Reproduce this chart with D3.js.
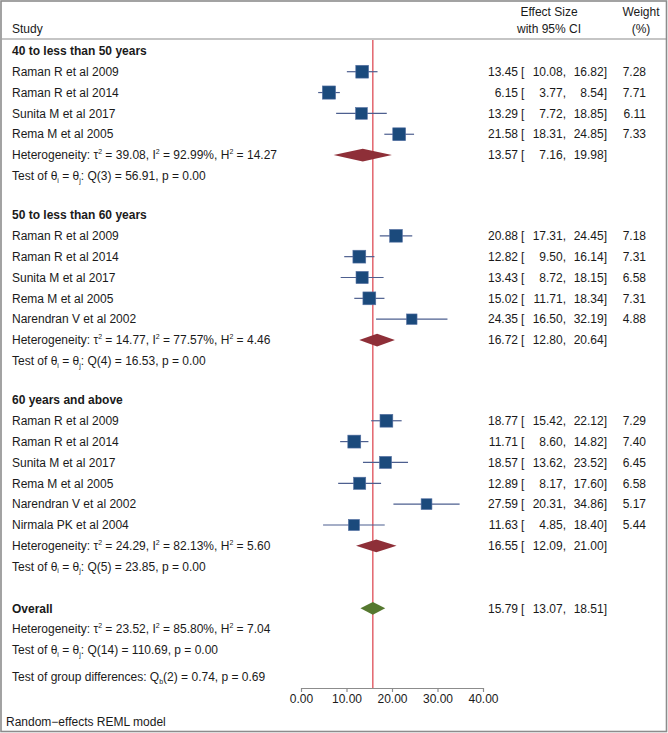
<!DOCTYPE html>
<html><head><meta charset="utf-8">
<script src="https://cdn.jsdelivr.net/npm/d3@7"></script>
<style>
html,body{margin:0;padding:0;background:#fff;}
svg text{font-family:"Liberation Sans",Arial,Helvetica,sans-serif;font-size:12px;fill:#1a1a1a;}
</style>
</head><body>
<svg id="chart" width="668" height="733"></svg>
<script>
// ---------------- data ----------------
const groupNames = ["40 to less than 50 years", "50 to less than 60 years", "60 years and above"];

const g1Studies = ["Raman R et al 2009", "Raman R et al 2014", "Sunita M et al 2017", "Rema M et al 2005"];
const g1ES = [13.45, 6.15, 13.29, 21.58];
const g1Lo = [10.08, 3.77, 7.72, 18.31];
const g1Hi = [16.82, 8.54, 18.85, 24.85];
const g1W  = [7.28, 7.71, 6.11, 7.33];

const g2Studies = ["Raman R et al 2009", "Raman R et al 2014", "Sunita M et al 2017", "Rema M et al 2005", "Narendran V et al 2002"];
const g2ES = [20.88, 12.82, 13.43, 15.02, 24.35];
const g2Lo = [17.31, 9.50, 8.72, 11.71, 16.50];
const g2Hi = [24.45, 16.14, 18.15, 18.34, 32.19];
const g2W  = [7.18, 7.31, 6.58, 7.31, 4.88];

const g3Studies = ["Raman R et al 2009", "Raman R et al 2014", "Sunita M et al 2017", "Rema M et al 2005", "Narendran V et al 2002", "Nirmala PK et al 2004"];
const g3ES = [18.77, 11.71, 18.57, 12.89, 27.59, 11.63];
const g3Lo = [15.42, 8.60, 13.62, 8.17, 20.31, 4.85];
const g3Hi = [22.12, 14.82, 23.52, 17.60, 34.86, 18.40];
const g3W  = [7.29, 7.40, 6.45, 6.58, 5.17, 5.44];

// pooled per group: es, lo, hi
const pooledES = [13.57, 16.72, 16.55];
const pooledLo = [7.16, 12.80, 12.09];
const pooledHi = [19.98, 20.64, 21.00];
const hetTau2 = [39.08, 14.77, 24.29];
const hetI2   = [92.99, 77.57, 82.13];
const hetH2   = [14.27, 4.46, 5.60];
const qDf     = [3, 4, 5];
const qStat   = [56.91, 16.53, 23.85];
const qP      = [0.00, 0.00, 0.00];

const overallES = 15.79, overallLo = 13.07, overallHi = 18.51;
const overallTau2 = 23.52, overallI2 = 85.80, overallH2 = 7.04;
const overallQdf = 14, overallQ = 110.69, overallP = 0.00;
const groupDiffDf = 2, groupDiffQ = 0.74, groupDiffP = 0.69;

const xTicks = [0, 10, 20, 30, 40];
const xTickLabels = ["0.00", "10.00", "20.00", "30.00", "40.00"];

// ---------------- build ----------------
const groups = [
  {name: groupNames[0], studies: g1Studies, es: g1ES, lo: g1Lo, hi: g1Hi, w: g1W},
  {name: groupNames[1], studies: g2Studies, es: g2ES, lo: g2Lo, hi: g2Hi, w: g2W},
  {name: groupNames[2], studies: g3Studies, es: g3ES, lo: g3Lo, hi: g3Hi, w: g3W}
];

const f2 = d3.format(".2f");
const svg = d3.select("#chart");

const x = d3.scaleLinear().domain([0, 40]).range([301, 483]);

const step = 20.85;
const groupGap = 39;
const overallGap = 41.6;
const leftX = 12;
const esRight = 518, brX = 521, loRight = 566, hiRight = 607, wRight = 646;

const colSquare = "#1b4a7c", colSquareEdge = "#5671a3", colCI = "#4d5f8f";
const colDiamond = "#8e2f38", colOverall = "#55782f", colRef = "#dc3d48";

// frame
svg.append("rect").attr("x", 1).attr("y", 1).attr("width", 665.5).attr("height", 730.5)
  .attr("fill", "none").attr("stroke", "#8c8c8c").attr("stroke-width", 1.6);

// header
svg.append("text").attr("x", leftX).attr("y", 29).attr("dy", "0.35em").text("Study");
svg.append("text").attr("x", 549).attr("y", 12).attr("dy", "0.35em").attr("text-anchor", "middle").text("Effect Size");
svg.append("text").attr("x", 549).attr("y", 29).attr("dy", "0.35em").attr("text-anchor", "middle").text("with 95% CI");
svg.append("text").attr("x", 641).attr("y", 12).attr("dy", "0.35em").attr("text-anchor", "middle").text("Weight");
svg.append("text").attr("x", 641).attr("y", 29).attr("dy", "0.35em").attr("text-anchor", "middle").text("(%)");
svg.append("line").attr("x1", 2).attr("x2", 666).attr("y1", 39).attr("y2", 39)
  .attr("stroke", "#8c8c8c").attr("stroke-width", 1.2);

// rich text helper
function rich(g, xx, yy, segs, bold) {
  const t = g.append("text").attr("x", xx).attr("y", yy).attr("dy", "0.35em");
  if (bold) t.attr("font-weight", "bold");
  let shift = 0;
  segs.forEach(s => {
    const ts = t.append("tspan").text(s.t);
    let target = 0;
    if (s.s === "sup") { target = -5; ts.style("font-size", "7px"); }
    else if (s.s === "sub") { target = 2.5; ts.style("font-size", "7px"); }
    const dy = target - shift;
    if (dy !== 0) ts.attr("dy", dy);
    shift = target;
  });
  return t;
}

function ciText(yy, es, lo, hi, w) {
  svg.append("text").attr("x", esRight).attr("y", yy).attr("dy", "0.35em").attr("text-anchor", "end").text(f2(es));
  svg.append("text").attr("x", brX).attr("y", yy).attr("dy", "0.35em").text("[");
  svg.append("text").attr("x", loRight).attr("y", yy).attr("dy", "0.35em").attr("text-anchor", "end").text(f2(lo) + ",");
  svg.append("text").attr("x", hiRight).attr("y", yy).attr("dy", "0.35em").attr("text-anchor", "end").text(f2(hi) + "]");
  if (w != null) svg.append("text").attr("x", wRight).attr("y", yy).attr("dy", "0.35em").attr("text-anchor", "end").text(f2(w));
}

function diamond(yy, es, lo, hi, color) {
  const h = 6.4;
  svg.append("path")
    .attr("d", `M${x(lo)},${yy}L${x(es)},${yy - h}L${x(hi)},${yy}L${x(es)},${yy + h}Z`)
    .attr("fill", color);
}

function hetSegs(tau2, i2, h2) {
  return [
    {t: "Heterogeneity: \u03C4"}, {t: "2", s: "sup"},
    {t: " = " + f2(tau2) + ", I"}, {t: "2", s: "sup"},
    {t: " = " + f2(i2) + "%, H"}, {t: "2", s: "sup"},
    {t: " = " + f2(h2)}
  ];
}
function testSegs(df, q, p) {
  return [
    {t: "Test of \u03B8"}, {t: "i", s: "sub"}, {t: " = \u03B8"}, {t: "j", s: "sub"},
    {t: ": Q(" + df + ") = " + f2(q) + ", p = " + f2(p)}
  ];
}

const markLayer = svg.append("g");
let y = 50.85;
groups.forEach((g, gi) => {
  if (gi > 0) y += groupGap;
  rich(svg, leftX, y, [{t: g.name}], true);
  g.studies.forEach((s, i) => {
    y += step;
    svg.append("text").attr("x", leftX).attr("y", y).attr("dy", "0.35em").text(s);
    markLayer.append("line").attr("x1", x(g.lo[i])).attr("x2", x(g.hi[i])).attr("y1", y).attr("y2", y)
      .attr("stroke", colCI).attr("stroke-width", 1.2);
    const side = 4.75 * Math.sqrt(g.w[i]);
    markLayer.append("rect").attr("x", x(g.es[i]) - side / 2).attr("y", y - side / 2)
      .attr("width", side).attr("height", side)
      .attr("fill", colSquare).attr("stroke", colSquareEdge).attr("stroke-width", 0.6);
    ciText(y, g.es[i], g.lo[i], g.hi[i], g.w[i]);
  });
  y += step;
  rich(svg, leftX, y, hetSegs(hetTau2[gi], hetI2[gi], hetH2[gi]));
  diamond(y, pooledES[gi], pooledLo[gi], pooledHi[gi], colDiamond);
  ciText(y, pooledES[gi], pooledLo[gi], pooledHi[gi], null);
  y += step;
  rich(svg, leftX, y, testSegs(qDf[gi], qStat[gi], qP[gi]));
});

// overall
y += overallGap;
rich(svg, leftX, y, [{t: "Overall"}], true);
diamond(y, overallES, overallLo, overallHi, colOverall);
ciText(y, overallES, overallLo, overallHi, null);
y += step;
rich(svg, leftX, y, hetSegs(overallTau2, overallI2, overallH2));
y += step;
rich(svg, leftX, y, testSegs(overallQdf, overallQ, overallP));
y += 27;
rich(svg, leftX, y, [
  {t: "Test of group differences: Q"}, {t: "b", s: "sub"},
  {t: "(" + groupDiffDf + ") = " + f2(groupDiffQ) + ", p = " + f2(groupDiffP)}
]);

// axis
const axisY = y + 11;
const axis = d3.axisBottom(x).tickValues(xTicks).tickFormat((d, i) => xTickLabels[i]).tickSize(4).tickSizeOuter(0);
const ag = svg.append("g").attr("transform", `translate(0,${axisY})`).call(axis);
ag.select(".domain").attr("stroke", "#8c8c8c").attr("stroke-width", 1.2);
ag.selectAll(".tick line").attr("stroke", "#8c8c8c").attr("stroke-width", 1.2);
ag.selectAll(".tick text").attr("fill", "#1a1a1a").attr("font-size", 12)
  .attr("font-family", "'Liberation Sans', Arial, Helvetica, sans-serif").attr("dy", "0.72em").attr("y", 6);

// reference line at overall effect
svg.insert("line", "g").attr("x1", x(overallES)).attr("x2", x(overallES)).attr("y1", 40).attr("y2", axisY)
  .attr("stroke", colRef).attr("stroke-width", 1.2);

svg.append("text").attr("x", 6).attr("y", 722).attr("dy", "0.35em").text("Random\u2212effects REML model");
</script>
</body></html>
